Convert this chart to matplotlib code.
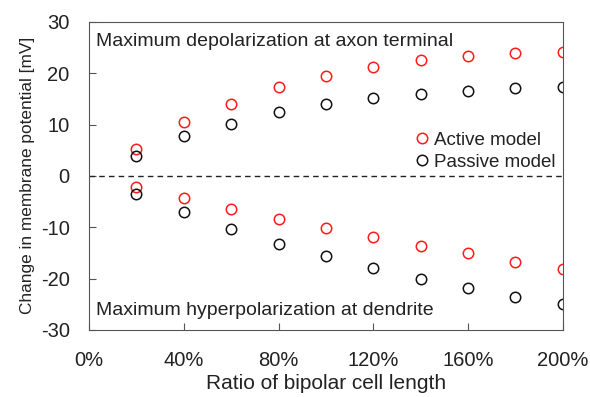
from matplotlib import pyplot as plt
from matplotlib import rcParams
import numpy as np

rcParams['font.family'] = 'Liberation Sans'
rcParams['axes.unicode_minus'] = False

ratio = [0.2, 0.4, 0.6, 0.8, 1.0, 1.2, 1.4, 1.6, 1.8, 2.0]
active_depol = [5.2, 10.5, 14.0, 17.3, 19.5, 21.2, 22.5, 23.3, 23.9, 24.2]
passive_depol = [3.8, 7.7, 10.1, 12.4, 14.0, 15.1, 16.0, 16.6, 17.1, 17.3]
active_hyper = [-2.2, -4.35, -6.4, -8.4, -10.2, -11.9, -13.6, -15.1, -16.8, -18.1]
passive_hyper = [-3.6, -7.1, -10.3, -13.2, -15.7, -18.0, -20.1, -21.9, -23.6, -25.0]
xticks = [0, 0.4, 0.8, 1.2, 1.6, 2.0]
xticklabels = ['0%', '40%', '80%', '120%', '160%', '200%']

fig = plt.figure(figsize=(5.9, 3.97), dpi=100)
ax = fig.add_axes([0.151, 0.169, 0.803, 0.776])

mk = dict(linestyle='none', marker='o', markersize=7.5, markerfacecolor='none', markeredgewidth=1.1)
ax.plot(ratio, active_depol, markeredgecolor='#ff1a1a', label='Active model', **mk)
ax.plot(ratio, passive_depol, markeredgecolor='#111111', label='Passive model', **mk)
ax.plot(ratio, active_hyper, markeredgecolor='#ff1a1a', **mk)
ax.plot(ratio, passive_hyper, markeredgecolor='#111111', **mk)
ax.axhline(0, color='#222222', linestyle=(0, (4, 3)), linewidth=1)

ax.set_xlim(0, 2.0)
ax.set_ylim(-30, 30)
ax.set_xticks(xticks)
ax.set_xticklabels(xticklabels)
ax.set_yticks(range(-30, 31, 10))
ax.tick_params(direction='in', labelsize=14.5, length=5, colors='#555555', labelcolor='#222222')
ax.tick_params(axis='y', pad=14)
ax.tick_params(axis='x', pad=15)
for s in ax.spines.values():
    s.set_color('#555555')
ax.set_xlabel('Ratio of bipolar cell length', fontsize=15, color='#222222', labelpad=3)
ax.set_ylabel('Change in membrane potential [mV]', fontsize=12.4, color='#222222', labelpad=4)

ax.text(0.015, 0.965, 'Maximum depolarization at axon terminal', transform=ax.transAxes,
        fontsize=14, va='top', ha='left', color='#222222')
ax.text(0.015, 0.035, 'Maximum hyperpolarization at dendrite', transform=ax.transAxes,
        fontsize=14, va='bottom', ha='left', color='#222222')

leg = ax.legend(loc='center right', bbox_to_anchor=(1.012, 0.58), frameon=False, fontsize=13.5,
                handletextpad=0.15, handlelength=1.0, labelspacing=0.25, borderpad=0.2,
                markerscale=1.0)
for t in leg.get_texts():
    t.set_color('#222222')

plt.savefig('out.png', dpi=100)
